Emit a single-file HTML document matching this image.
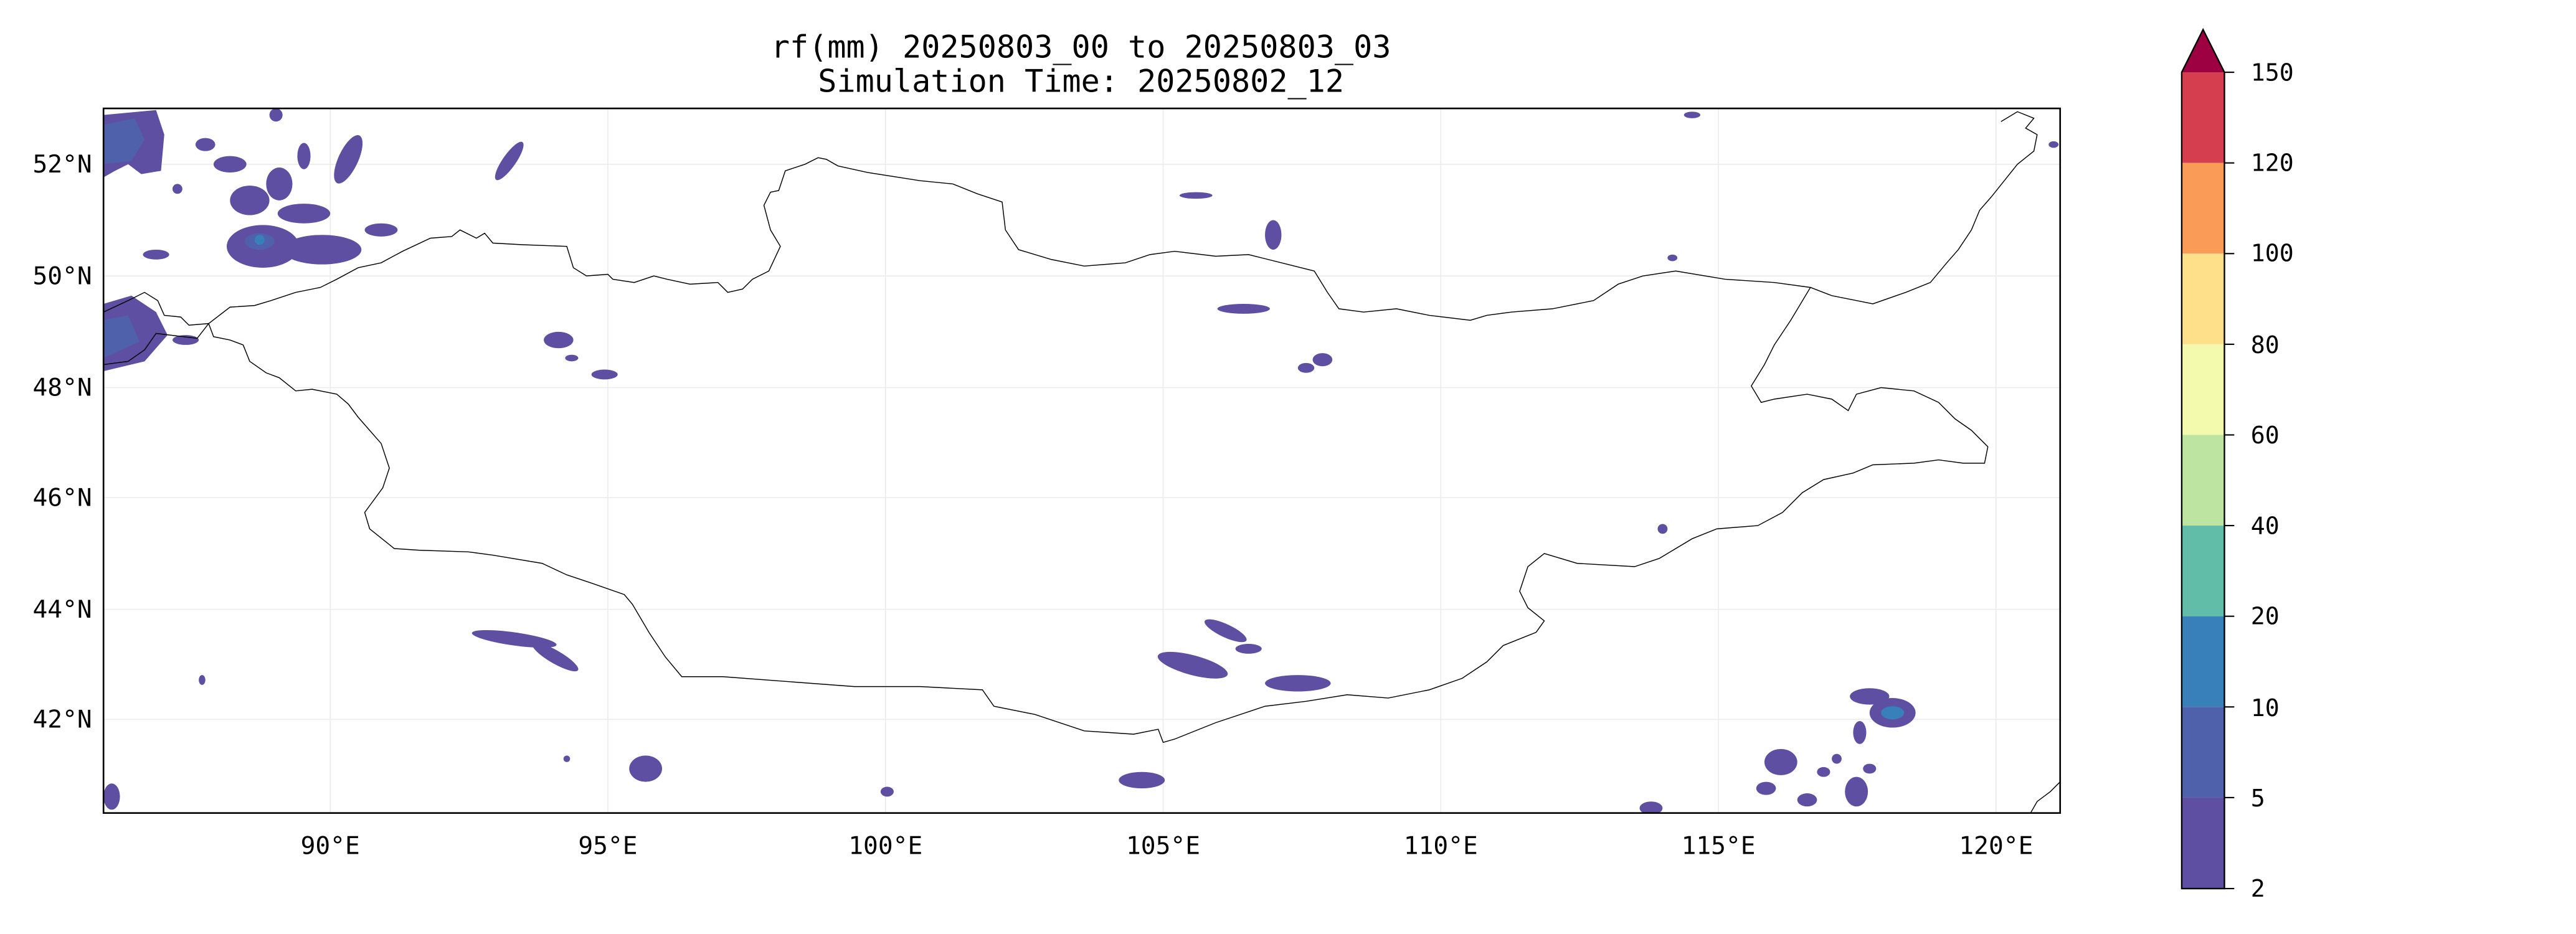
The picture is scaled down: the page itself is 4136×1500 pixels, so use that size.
<!DOCTYPE html>
<html><head><meta charset="utf-8"><style>
html,body{margin:0;padding:0;background:#fff;}
svg{display:block;}
text{font-family:"DejaVu Sans Mono","Liberation Mono",monospace;fill:#000;}
</style></head><body>
<svg width="4136" height="1500" viewBox="0 0 1568 568.66" xmlns="http://www.w3.org/2000/svg">
<defs><clipPath id="c"><rect x="63" y="66" width="1191" height="429"/></clipPath></defs>
<!-- title -->
<text x="658" y="35" font-size="19" text-anchor="middle">rf(mm) 20250803_00 to 20250803_03</text>
<text x="658" y="56" font-size="19" text-anchor="middle">Simulation Time: 20250802_12</text>
<!-- gridlines -->
<g stroke="#ebebeb" stroke-width="0.6">
<line x1="201" y1="66" x2="201" y2="495"/><line x1="370" y1="66" x2="370" y2="495"/>
<line x1="539" y1="66" x2="539" y2="495"/><line x1="708" y1="66" x2="708" y2="495"/>
<line x1="877" y1="66" x2="877" y2="495"/><line x1="1046" y1="66" x2="1046" y2="495"/>
<line x1="1215" y1="66" x2="1215" y2="495"/>
<line x1="63" y1="100" x2="1254" y2="100"/><line x1="63" y1="168" x2="1254" y2="168"/>
<line x1="63" y1="236" x2="1254" y2="236"/><line x1="63" y1="303" x2="1254" y2="303"/>
<line x1="63" y1="371" x2="1254" y2="371"/><line x1="63" y1="438" x2="1254" y2="438"/>
</g>
<!-- precip -->
<g clip-path="url(#c)" fill="#5e4fa2">
<path d="M63,70 L95,67 L100,82 L98,104 L86,106 L78,100 L70,104 L63,108Z"/>
<path d="M63,76 L82,72 L88,85 L80,98 L63,100Z" fill="#4f61aa"/>
<ellipse cx="160" cy="150" rx="22" ry="13"/>
<ellipse cx="196" cy="152" rx="24" ry="9"/>
<ellipse cx="152" cy="122" rx="12" ry="9"/>
<ellipse cx="185" cy="130" rx="16" ry="6"/>
<ellipse cx="140" cy="100" rx="10" ry="5"/>
<ellipse cx="170" cy="112" rx="8" ry="10"/>
<ellipse cx="212" cy="97" rx="6" ry="16" transform="rotate(25 212 97)"/>
<ellipse cx="310" cy="98" rx="4" ry="14" transform="rotate(35 310 98)"/>
<ellipse cx="232" cy="140" rx="10" ry="4"/>
<ellipse cx="95" cy="155" rx="8" ry="3"/>
<ellipse cx="125" cy="88" rx="6" ry="4"/>
<ellipse cx="185" cy="95" rx="4" ry="8"/>
<ellipse cx="108" cy="115" rx="3" ry="3"/>
<ellipse cx="168" cy="70" rx="4" ry="4"/>
<ellipse cx="158" cy="147" rx="9" ry="5" fill="#4f61aa"/>
<ellipse cx="158" cy="146" rx="3" ry="3" fill="#3880b9"/>
<path d="M63,185 L80,180 L95,190 L102,204 L88,220 L63,226Z"/>
<path d="M63,195 L78,192 L85,208 L63,218Z" fill="#4f61aa"/>
<ellipse cx="113" cy="207" rx="8" ry="3"/>
<ellipse cx="340" cy="207" rx="9" ry="5"/>
<ellipse cx="368" cy="228" rx="8" ry="3"/>
<ellipse cx="348" cy="218" rx="4" ry="2"/>
<ellipse cx="313" cy="389" rx="26" ry="4" transform="rotate(8 313 389)"/>
<ellipse cx="338" cy="400" rx="16" ry="4" transform="rotate(30 338 400)"/>
<ellipse cx="393" cy="468" rx="10" ry="8"/>
<ellipse cx="695" cy="475" rx="14" ry="5"/>
<ellipse cx="540" cy="482" rx="4" ry="3"/>
<ellipse cx="123" cy="414" rx="2" ry="3"/>
<ellipse cx="345" cy="462" rx="2" ry="2"/>
<ellipse cx="68" cy="485" rx="5" ry="8"/>
<ellipse cx="746" cy="384" rx="14" ry="4" transform="rotate(25 746 384)"/>
<ellipse cx="726" cy="405" rx="22" ry="6" transform="rotate(15 726 405)"/>
<ellipse cx="790" cy="416" rx="20" ry="5"/>
<ellipse cx="760" cy="395" rx="8" ry="3"/>
<ellipse cx="757" cy="188" rx="16" ry="3"/>
<ellipse cx="775" cy="143" rx="5" ry="9"/>
<ellipse cx="805" cy="219" rx="6" ry="4"/>
<ellipse cx="795" cy="224" rx="5" ry="3"/>
<ellipse cx="728" cy="119" rx="10" ry="2"/>
<ellipse cx="1018" cy="157" rx="3" ry="2"/>
<ellipse cx="1012" cy="322" rx="3" ry="3"/>
<ellipse cx="1138" cy="424" rx="12" ry="5"/>
<ellipse cx="1152" cy="434" rx="14" ry="9"/>
<ellipse cx="1152" cy="434" rx="7" ry="4" fill="#3880b9"/>
<ellipse cx="1132" cy="446" rx="4" ry="7"/>
<ellipse cx="1084" cy="464" rx="10" ry="8"/>
<ellipse cx="1075" cy="480" rx="6" ry="4"/>
<ellipse cx="1130" cy="482" rx="7" ry="9"/>
<ellipse cx="1110" cy="470" rx="4" ry="3"/>
<ellipse cx="1005" cy="492" rx="7" ry="4"/>
<ellipse cx="1100" cy="487" rx="6" ry="4"/>
<ellipse cx="1118" cy="462" rx="3" ry="3"/>
<ellipse cx="1138" cy="468" rx="4" ry="3"/>
<ellipse cx="1250" cy="88" rx="3" ry="2"/>
<ellipse cx="1030" cy="70" rx="5" ry="2"/>
</g>
<!-- borders -->
<g clip-path="url(#c)" fill="none" stroke="#000" stroke-width="0.55">
<path d="M127,197 L140,187 L155,186 L165,183 L180,178 L195,175 L205,170 L218,163 L232,160 L245,153 L262,145 L275,144 L280,140 L290,145 L295,142 L300,148 L318,149 L345,150 L349,163 L357,168 L370,167 L373,170 L386,172 L398,168 L406,170 L420,173 L437,172 L443,178 L452,176 L458,170 L468,165 L475,150 L469,140 L465,125 L469,117 L474,116 L478,104 L490,100 L498,96 L503,97 L510,101 L528,105 L560,110 L580,112 L595,118 L610,123 L612,140 L620,152 L640,158 L660,162 L685,160 L700,155 L715,153 L740,156 L760,155 L780,160 L800,165 L808,178 L815,188 L830,190 L850,188 L870,192 L895,195 L905,192 L920,190 L945,188 L970,183 L985,173 L1000,168 L1020,165 L1050,170 L1080,172 L1102,175 L1090,195 L1080,210 L1074,222 L1066,235 L1072,245 L1080,243 L1100,240 L1115,243 L1125,250 L1130,240 L1145,236 L1165,238 L1180,245 L1190,255 L1200,262 L1210,272 L1208,282 L1195,282 L1180,280 L1165,282 L1140,283 L1128,288 L1110,292 L1097,300 L1085,312 L1070,320 L1045,322 L1030,328 L1010,340 L995,345 L960,343 L940,337 L930,345 L925,360 L930,370 L940,378 L935,385 L915,393 L905,403 L890,413 L870,420 L845,425 L820,423 L795,427 L770,430 L740,440 L715,450 L708,452 L705,444 L690,447 L660,445 L630,435 L605,430 L598,420 L560,418 L520,418 L480,415 L440,412 L415,412 L405,400 L395,385 L385,368 L380,362 L360,355 L345,350 L330,343 L300,338 L285,336 L255,335 L240,334 L235,330 L225,322 L222,312 L233,297 L237,285 L232,270 L225,262 L218,254 L212,246 L205,240 L190,237 L180,238 L170,230 L162,227 L152,220 L148,210 L140,207 L130,205 L127,197"/>
<path d="M1102,175 L1115,180 L1130,183 L1140,185 L1160,178 L1175,172 L1185,160 L1192,152 L1200,140 L1205,128 L1212,120 L1220,110 L1228,100 L1238,92 L1240,82 L1233,78 L1238,72 L1228,68 L1218,74"/>
<path d="M63,190 L78,183 L88,178 L96,183 L100,192 L110,193 L115,198 L127,197"/>
<path d="M63,222 L78,220 L88,213 L95,203 L120,206 L127,197"/>
<path d="M1236,495 L1240,488 L1248,482 L1254,476"/>
</g>
<rect x="63" y="66" width="1191" height="429" fill="none" stroke="#000" stroke-width="1"/>
<!-- axis labels -->
<g font-size="15" text-anchor="end">
<text x="56" y="105">52°N</text><text x="56" y="173">50°N</text>
<text x="56" y="241">48°N</text><text x="56" y="308">46°N</text>
<text x="56" y="376">44°N</text><text x="56" y="443">42°N</text>
</g>
<g font-size="15" text-anchor="middle">
<text x="201" y="520">90°E</text><text x="370" y="520">95°E</text>
<text x="539" y="520">100°E</text><text x="708" y="520">105°E</text>
<text x="877" y="520">110°E</text><text x="1046" y="520">115°E</text>
<text x="1215" y="520">120°E</text>
</g>
<!-- colorbar -->
<g>
<rect x="1328" y="44" width="26" height="55.2" fill="#d53e4f"/>
<rect x="1328" y="99.2" width="26" height="55.2" fill="#fa9b58"/>
<rect x="1328" y="154.4" width="26" height="55.2" fill="#fee08b"/>
<rect x="1328" y="209.6" width="26" height="55.2" fill="#f3faad"/>
<rect x="1328" y="264.8" width="26" height="55.2" fill="#bde4a0"/>
<rect x="1328" y="320" width="26" height="55.2" fill="#61bca8"/>
<rect x="1328" y="375.2" width="26" height="55.2" fill="#3880b9"/>
<rect x="1328" y="430.4" width="26" height="55.2" fill="#4f61aa"/>
<rect x="1328" y="485.6" width="26" height="55.4" fill="#5e4fa2"/>
<path d="M1328,44 L1341,18 L1354,44Z" fill="#9e0142"/>
<path d="M1328,541 L1328,44 L1341,18 L1354,44 L1354,541Z" fill="none" stroke="#000" stroke-width="0.9"/>
<g stroke="#000" stroke-width="0.8">
<line x1="1354" y1="44" x2="1360" y2="44"/><line x1="1354" y1="99.2" x2="1360" y2="99.2"/>
<line x1="1354" y1="154.4" x2="1360" y2="154.4"/><line x1="1354" y1="209.6" x2="1360" y2="209.6"/>
<line x1="1354" y1="264.8" x2="1360" y2="264.8"/><line x1="1354" y1="320" x2="1360" y2="320"/>
<line x1="1354" y1="375.2" x2="1360" y2="375.2"/><line x1="1354" y1="430.4" x2="1360" y2="430.4"/>
<line x1="1354" y1="485.6" x2="1360" y2="485.6"/><line x1="1354" y1="541" x2="1360" y2="541"/>
</g>
<g font-size="14.5">
<text x="1370" y="49">150</text><text x="1370" y="104">120</text>
<text x="1370" y="159">100</text><text x="1370" y="215">80</text>
<text x="1370" y="270">60</text><text x="1370" y="325">40</text>
<text x="1370" y="380">20</text><text x="1370" y="436">10</text>
<text x="1370" y="491">5</text><text x="1370" y="546">2</text>
</g>
</g>
</svg>
</body></html>
